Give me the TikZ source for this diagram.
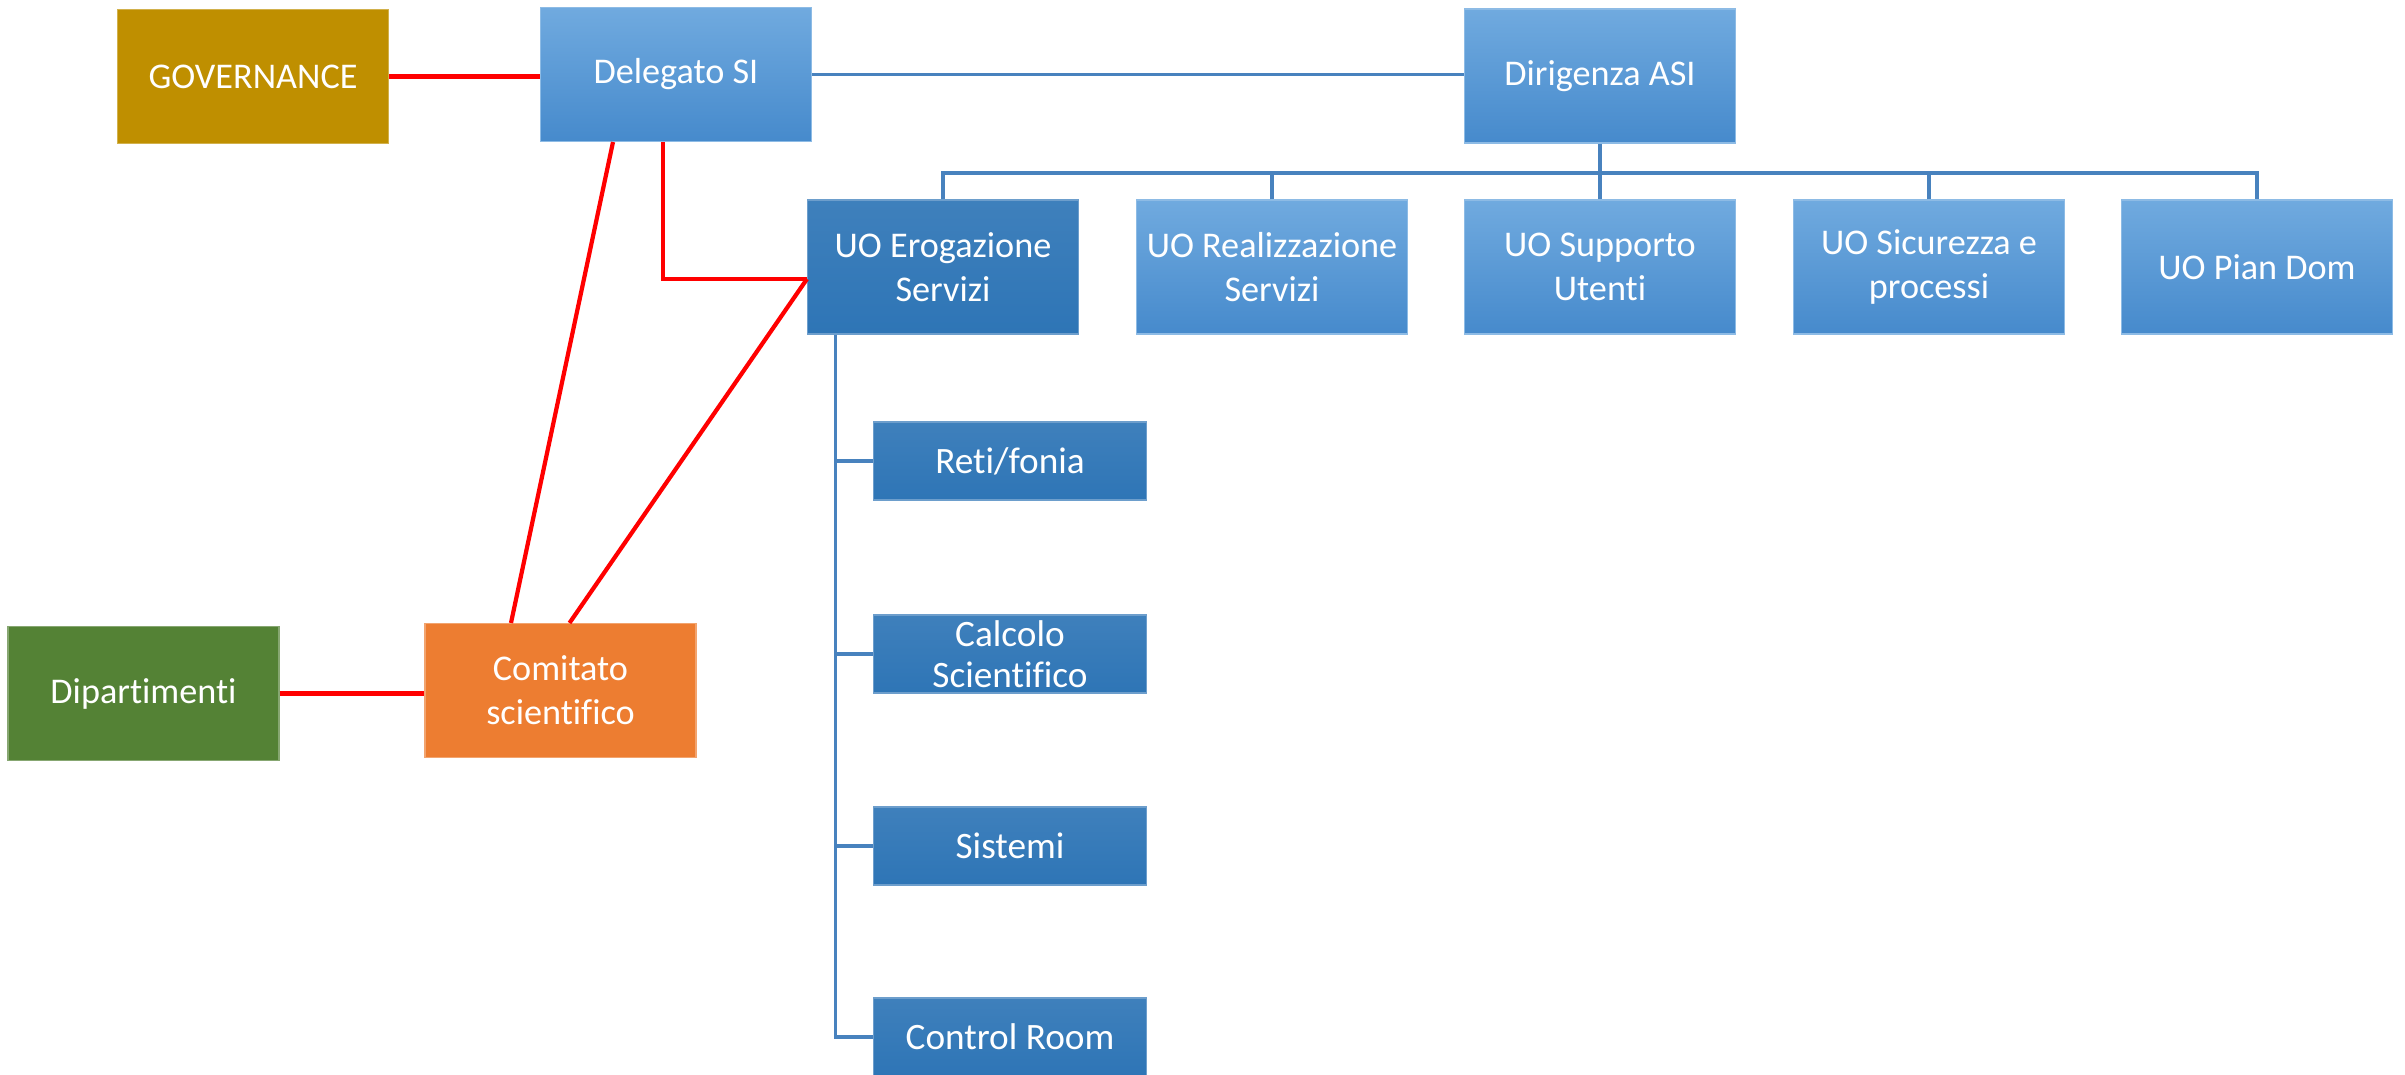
\documentclass[tikz,border=0pt]{standalone}
\usepackage{fontspec}
\setmainfont{Carlito}[Ligatures={NoCommon}]
\usepackage{tikz}

\definecolor{govgold}{RGB}{191,143,0}
\definecolor{lightblutop}{RGB}{112,170,223}
\definecolor{lightblubot}{RGB}{70,138,204}
\definecolor{darkblu}{RGB}{46,117,182}
\definecolor{depgreen}{RGB}{84,130,53}
\definecolor{comorange}{RGB}{237,125,49}
\definecolor{linkblu}{RGB}{72,130,190}

\tikzset{
  box/.style={rectangle, minimum width=2.71cm, minimum height=1.34cm, inner sep=0pt,
    align=center, text=white, font=\fontsize{10.3}{12.6}\selectfont},
  subbox/.style={rectangle, minimum width=2.73cm, minimum height=0.78cm, inner sep=0pt,
    align=center, text=white, font=\fontsize{10.6}{11.6}\selectfont,
    top color=darkblu!92!white, bottom color=darkblu, draw=darkblu!70!white, line width=0.3pt},
  lightbox/.style={box, top color=lightblutop, bottom color=lightblubot, draw=lightblutop!80!white, line width=0.3pt},
  darkbox/.style={box, top color=darkblu!92!white, bottom color=darkblu, draw=darkblu!70!white, line width=0.3pt},
  redlink/.style={draw=red, line width=1.2pt},
  blulink/.style={draw=linkblu, line width=0.9pt}
}

\begin{document}
\begin{tikzpicture}
   \useasboundingbox (0,0) rectangle (24.05,-10.74);
   % top level
   \node[box, fill=govgold, draw=govgold!70!white, line width=0.3pt] (gov) at (2.53,-0.765) {GOVERNANCE};
   \node[lightbox] (del) at (6.76,-0.745) {Delegato SI};
   \node[lightbox] (dir) at (16.0,-0.76) {Dirigenza ASI};
   % units
   \node[darkbox] (uo1) at (9.43,-2.67) {UO Erogazione\\Servizi};
   \node[lightbox] (uo2) at (12.72,-2.67) {UO Realizzazione\\Servizi};
   \node[lightbox] (uo3) at (16.0,-2.67) {UO Supporto\\Utenti};
   \node[lightbox] (uo4) at (19.29,-2.67) {UO Sicurezza e\\processi};
   \node[lightbox] (uo5) at (22.57,-2.67) {UO Pian Dom};
   % sub units
   \begin{scope}[every node/.style={subbox}]
    \node (s1) at (10.1,-4.61) {Reti/fonia};
    \node (s2) at (10.1,-6.54) {Calcolo\\Scientifico};
    \node (s3) at (10.1,-8.46) {Sistemi};
    \node (s4) at (10.1,-10.37) {Control Room};
   \end{scope}
   \node[box, fill=depgreen, draw=depgreen!70!white, line width=0.3pt] (dip) at (1.435,-6.935) {Dipartimenti};
   \node[box, fill=comorange, draw=comorange!70!white, line width=0.3pt] (com) at (5.605,-6.905) {Comitato\\scientifico};

   \coordinate (bus) at (16.0,-1.73);
   \coordinate (trunk) at ([xshift=0.285cm]uo1.south west);
   \begin{scope}[every path/.style={blulink}]
    \draw (del.east) -- (del.east -| dir.west);
    \draw (dir.south) -- (uo3.north);
    \draw (uo1.north) |- (bus) -| (uo5.north);
    \draw (uo2.north) -- (uo2.north |- bus);
    \draw (uo4.north) -- (uo4.north |- bus);
    \draw (trunk) |- (s4.west);
    \draw (s1.west) -- (s1.west -| trunk);
    \draw (s2.west) -- (s2.west -| trunk);
    \draw (s3.west) -- (s3.west -| trunk);
   \end{scope}
   \begin{scope}[every path/.style={redlink}]
    \draw (gov.east) -- (gov.east -| del.west);
    \draw (dip.east) -- (dip.east -| com.west);
    \draw ([xshift=-0.63cm]del.south) -- ([xshift=-0.495cm]com.north);
    \draw ([xshift=-0.13cm]del.south) |- ([yshift=-0.12cm]uo1.west);
    \draw ([yshift=-0.12cm]uo1.west) -- ([xshift=0.09cm]com.north);
   \end{scope}
\end{tikzpicture}
\end{document}
